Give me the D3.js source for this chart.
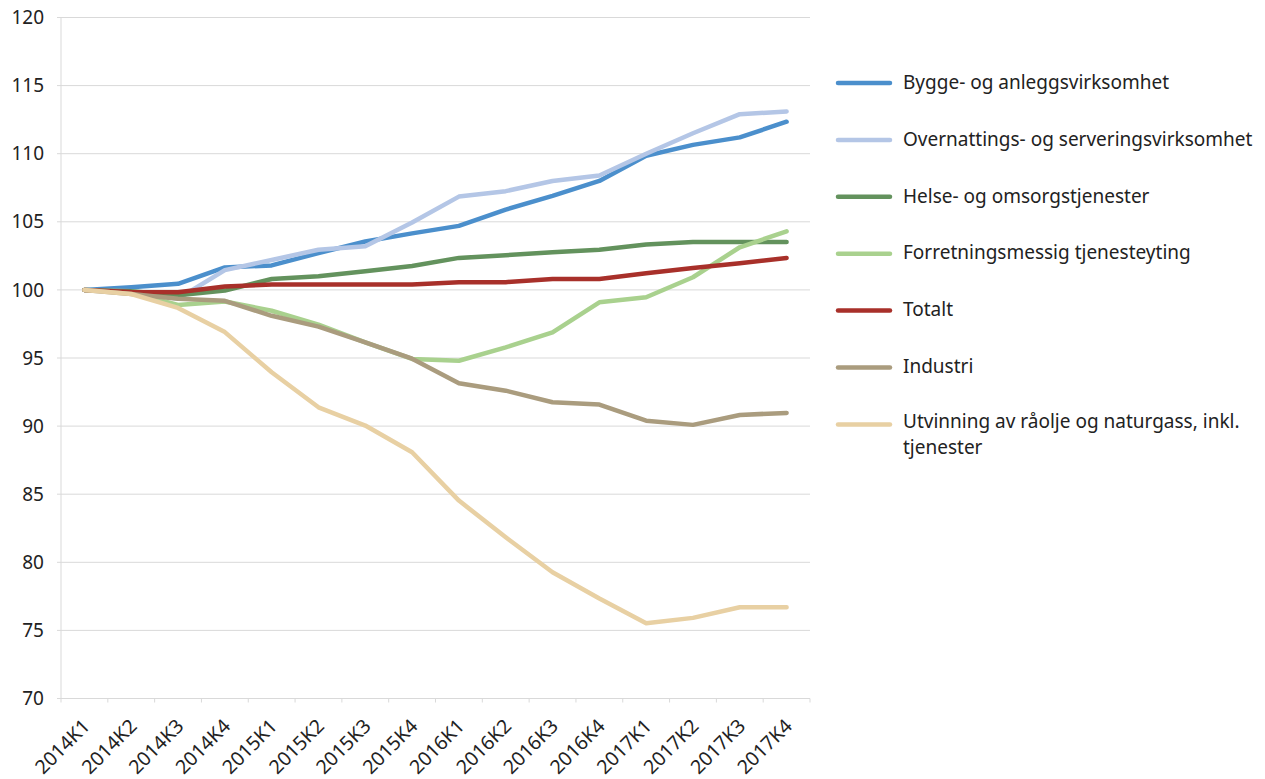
<!DOCTYPE html>
<html>
<head>
<meta charset="utf-8">
<script src="https://cdn.jsdelivr.net/npm/d3@7"></script>
<style>
  body { margin: 0; background: #fff; }
  text { font-family: "Noto Sans", "Open Sans", sans-serif; fill: #222; }
</style>
</head>
<body>
<div id="chart-area"></div>
<script>
var quarters = ["2014K1", "2014K2", "2014K3", "2014K4", "2015K1", "2015K2", "2015K3", "2015K4",
    "2016K1", "2016K2", "2016K3", "2016K4", "2017K1", "2017K2", "2017K3", "2017K4"];

var seriesNames = ["Bygge- og anleggsvirksomhet", "Overnattings- og serveringsvirksomhet",
    "Helse- og omsorgstjenester", "Forretningsmessig tjenesteyting", "Totalt", "Industri",
    "Utvinning av råolje og naturgass, inkl. tjenester"];

var bygge = [100, 100.2, 100.45, 101.65, 101.8, 102.7, 103.55, 104.15, 104.7, 105.9, 106.9, 108.0, 109.85, 110.65, 111.2, 112.35];
var overnatting = [100, 99.9, 99.35, 101.45, 102.2, 102.95, 103.2, 104.95, 106.85, 107.25, 108.0, 108.4, 110.0, 111.5, 112.9, 113.1];
var helse = [100, 99.9, 99.6, 99.95, 100.8, 101.0, 101.37, 101.75, 102.35, 102.55, 102.76, 102.94, 103.33, 103.52, 103.52, 103.52];
var forretning = [100, 99.8, 98.9, 99.15, 98.47, 97.45, 96.15, 94.93, 94.8, 95.78, 96.88, 99.09, 99.46, 100.93, 103.13, 104.3];
var totalt = [100, 99.85, 99.83, 100.25, 100.4, 100.4, 100.4, 100.4, 100.57, 100.57, 100.8, 100.8, 101.22, 101.6, 101.95, 102.35];
var industri = [100, 99.7, 99.35, 99.2, 98.1, 97.3, 96.15, 94.95, 93.15, 92.6, 91.75, 91.58, 90.4, 90.09, 90.82, 90.97];
var utvinning = [100, 99.7, 98.68, 96.9, 93.95, 91.38, 90.04, 88.08, 84.53, 81.84, 79.27, 77.34, 75.52, 75.92, 76.7, 76.7];

var yTicks = [70, 75, 80, 85, 90, 95, 100, 105, 110, 115, 120];

var colors = ["#4b8fcc", "#b4c6e6", "#63925d", "#a9d18e", "#a8302a", "#aa9c7e", "#e8d0a3"];

var allSeries = [bygge, overnatting, helse, forretning, totalt, industri, utvinning];

var margin = { top: 17.5, left: 61, right: 455, bottom: 80.5 };
var width = 1265 - margin.left - margin.right;
var height = 779 - margin.top - margin.bottom;

var svg = d3.select("#chart-area").append("svg")
    .attr("width", 1265)
    .attr("height", 779);

var g = svg.append("g")
    .attr("transform", "translate(" + margin.left + "," + margin.top + ")");

var x = d3.scaleBand()
    .domain(quarters)
    .range([0, width]);

var y = d3.scaleLinear()
    .domain([70, 120])
    .range([height, 0]);

// gridlines
g.append("g")
    .selectAll("line")
    .data(yTicks)
    .enter().append("line")
    .attr("x1", -4)
    .attr("x2", width)
    .attr("y1", function (d) { return y(d); })
    .attr("y2", function (d) { return y(d); })
    .attr("stroke", "#d9d9d9")
    .attr("stroke-width", 1);

// y axis line
g.append("line")
    .attr("x1", 0).attr("x2", 0)
    .attr("y1", 0).attr("y2", height)
    .attr("stroke", "#d9d9d9");

// y labels
g.append("g")
    .selectAll("text")
    .data(yTicks)
    .enter().append("text")
    .attr("x", -17)
    .attr("y", function (d) { return y(d); })
    .attr("dy", "0.35em")
    .attr("text-anchor", "end")
    .style("font-size", "19px")
    .text(function (d) { return d; });

// x tick marks at category boundaries
var bounds = quarters.map(function (q) { return x(q); }).concat([width]);
g.append("g")
    .selectAll("line")
    .data(bounds)
    .enter().append("line")
    .attr("x1", function (d) { return d; })
    .attr("x2", function (d) { return d; })
    .attr("y1", height)
    .attr("y2", height + 4)
    .attr("stroke", "#d9d9d9");

// x labels
g.append("g")
    .selectAll("text")
    .data(quarters)
    .enter().append("text")
    .attr("transform", function (d) {
        return "translate(" + (x(d) + x.bandwidth() / 2 + 2) + "," + (height + 24) + ") rotate(-45)";
    })
    .attr("text-anchor", "end")
    .attr("dy", "0.35em")
    .style("font-size", "19.5px")
    .text(function (d) { return d; });

// lines
var line = d3.line()
    .x(function (d, i) { return x(quarters[i]) + x.bandwidth() / 2; })
    .y(function (d) { return y(d); });

allSeries.forEach(function (s, i) {
    g.append("path")
        .datum(s)
        .attr("fill", "none")
        .attr("stroke", colors[i])
        .attr("stroke-width", 4.5)
        .attr("stroke-linejoin", "round")
        .attr("stroke-linecap", "round")
        .attr("d", line);
});

// legend
var legend = svg.append("g")
    .attr("transform", "translate(838,83)");

seriesNames.forEach(function (name, i) {
    var row = legend.append("g")
        .attr("transform", "translate(0," + (i * 56.9) + ")");
    row.append("line")
        .attr("x1", 0).attr("x2", 52)
        .attr("stroke", colors[i])
        .attr("stroke-width", 4.5)
        .attr("stroke-linecap", "round");
    if (i === 6) {
        // wrapped onto two lines like the original
        row.append("text")
            .attr("x", 65).attr("y", -2).attr("dy", "0.3em")
            .style("font-size", "19px")
            .text("Utvinning av råolje og naturgass, inkl.");
        row.append("text")
            .attr("x", 65).attr("y", 24).attr("dy", "0.3em")
            .style("font-size", "19px")
            .text("tjenester");
    } else {
        row.append("text")
            .attr("x", 65)
            .attr("y", 0)
            .attr("dy", "0.3em")
            .style("font-size", "19px")
            .text(name);
    }
});
</script>
</body>
</html>
